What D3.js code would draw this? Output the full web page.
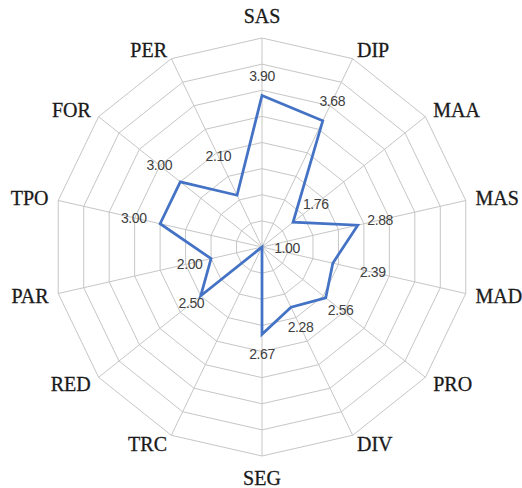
<!DOCTYPE html>
<html lang="en">
<head>
    <meta charset="UTF-8">
    <title>Radar</title>
    <script src="https://d3js.org/d3.v7.min.js"></script>
    <style>
        body { margin: 0; background: #fff; }
    </style>
</head>
<body>
<div id="chart"></div>

<script>
    // axes, clockwise from the top
    const categories = ["SAS", "DIP", "MAA", "MAS", "MAD", "PRO", "DIV", "SEG", "TRC", "RED", "PAR", "TPO", "FOR", "PER"];
    const values = [3.90, 3.68, 1.76, 2.88, 2.39, 2.56, 2.28, 2.67, 1.00, 2.50, 2.00, 3.00, 3.00, 2.10];
    const ringValues = [1.5, 2, 2.5, 3, 3.5, 4, 4.5, 5];

    // extra distance (px) of each value label beyond its point
    const labelPad = [19, 22, 29, 23, 41, 19, 22, 20, 0, 12, 22, 27, 27, 43];

    const width = 522, height = 488;
    const cx = 262, cy = 247, R = 209;

    const svg = d3.select("#chart")
        .append("svg")
        .attr("width", width)
        .attr("height", height);

    const g = svg.append("g").attr("transform", `translate(${cx},${cy})`);

    const r = d3.scaleLinear().domain([1, 5]).range([0, R]);
    const angle = d3.scaleLinear().domain([0, categories.length]).range([0, 2 * Math.PI]);

    const pt = (i, rad) => [rad * Math.sin(angle(i)), -rad * Math.cos(angle(i))];

    // rings
    const ring = d3.line().curve(d3.curveLinearClosed);
    g.selectAll(".ring")
        .data(ringValues)
        .join("path")
        .attr("class", "ring")
        .attr("d", v => ring(categories.map((c, i) => pt(i, r(v)))))
        .attr("fill", "none")
        .attr("stroke", "#c6c6c6")
        .attr("stroke-width", 1);

    // spokes
    g.selectAll(".spoke")
        .data(categories)
        .join("line")
        .attr("class", "spoke")
        .attr("x1", 0).attr("y1", 0)
        .attr("x2", (c, i) => pt(i, r(5))[0])
        .attr("y2", (c, i) => pt(i, r(5))[1])
        .attr("stroke", "#c6c6c6")
        .attr("stroke-width", 1);

    // category labels
    g.selectAll(".cat")
        .data(categories)
        .join("text")
        .attr("class", "cat")
        .each(function (c, i) {
            const s = Math.sin(angle(i));
            const vertical = Math.abs(s) < 0.1;
            const p = pt(i, r(5) + (vertical ? 22 : 10));
            d3.select(this)
                .attr("x", p[0])
                .attr("y", p[1])
                .attr("text-anchor", vertical ? "middle" : (s > 0 ? "start" : "end"));
        })
        .attr("dominant-baseline", "central")
        .attr("font-family", "'Liberation Serif', 'Times New Roman', serif")
        .attr("font-size", 20)
        .attr("fill", "#1a1a1a")
        .attr("stroke", "#1a1a1a")
        .attr("stroke-width", 0.3)
        .text(c => c);

    // series line
    g.append("path")
        .datum(values)
        .attr("d", vals => ring(vals.map((v, i) => pt(i, r(v)))))
        .attr("fill", "none")
        .attr("stroke", "#4472c4")
        .attr("stroke-width", 2.75)
        .attr("stroke-linejoin", "miter");

    // value labels
    g.selectAll(".val")
        .data(values)
        .join("text")
        .attr("class", "val")
        .each(function (v, i) {
            let p = pt(i, r(v) + labelPad[i]);
            if (r(v) === 0) p = [25, 1];
            d3.select(this).attr("x", p[0]).attr("y", p[1]);
        })
        .attr("text-anchor", "middle")
        .attr("dominant-baseline", "central")
        .attr("font-family", "'Liberation Sans', Arial, sans-serif")
        .attr("font-size", 14)
        .attr("letter-spacing", -0.4)
        .attr("fill", "#404040")
        .text(v => v.toFixed(2));
</script>
</body>
</html>
